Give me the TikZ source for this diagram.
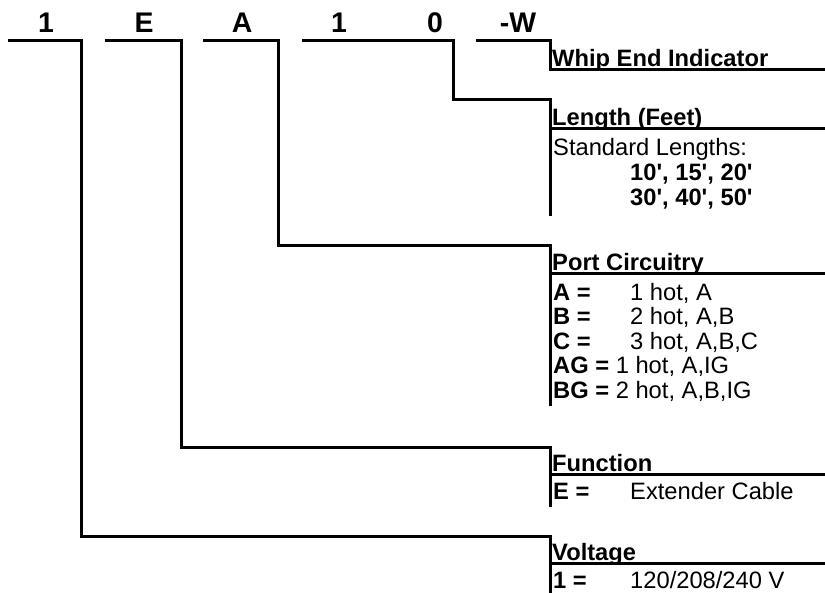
\documentclass[tikz,border=0pt]{standalone}
\usepackage{fontspec}
\setmainfont{Liberation Sans}[Ligatures=TeXOff]
\usetikzlibrary{positioning}
\newcommand{\codefont}{\fontsize{28.5}{30}\selectfont\bfseries}
\newcommand{\bodyfont}{\fontsize{23.8}{25}\selectfont}
\newcommand{\optkey}[1]{\makebox[77bp][l]{\bfseries #1}}
\tikzstyle{digit} = [font=\codefont, anchor=base, inner sep=0pt]
\tikzstyle{heading} = [font=\bodyfont\bfseries, anchor=base west, inner sep=0pt]
\tikzstyle{entry} = [font=\bodyfont, anchor=base west, inner sep=0pt]
\tikzstyle{lead} = [line width=3bp, black]

\begin{document}
\begin{tikzpicture}[x=1bp, y=-1bp]
    \useasboundingbox (0,0) rectangle (825,593);
    \coordinate (edge) at (825,0);

    % Place the code characters
    \node [digit] (cVolt) at (46,33) {1};
    \node [digit] (cFunc) at (144,33) {E};
    \node [digit] (cPort) at (242,33) {A};
    \node [digit] (cLenA) at (339,33) {1};
    \node [digit] (cLenB) at (435,33) {0};
    \node [digit] (cWhip) at (518,33) {-W};

    % Place the headings
    \node [heading] (tWhip) at (552,67) {Whip End Indicator};
    \node [heading] (tLen) at (552,126) {Length (Feet)};
    \node [heading] (tPort) at (552,270) {Port Circuitry};
    \node [heading] (tFunc) at (552,471) {Function};
    \node [heading] (tVolt) at (552,560) {Voltage};

    % Place the entries
    \node [entry] (eLen1) at (553,156) {Standard Lengths:};
    \node [entry] (eLen2) at (630,181) {\bfseries 10', 15', 20'};
    \node [entry] (eLen3) at (630,206) {\bfseries 30', 40', 50'};
    \node [entry] (ePortA) at (553,300) {\optkey{A =}1 hot, A};
    \node [entry] (ePortB) at (553,324.5) {\optkey{B =}2 hot, A,B};
    \node [entry] (ePortC) at (553,349) {\optkey{C =}3 hot, A,B,C};
    \node [entry] (ePortAG) at (553,373.5) {{\bfseries AG =} 1 hot, A,IG};
    \node [entry] (ePortBG) at (553,398) {{\bfseries BG =} 2 hot, A,B,IG};
    \node [entry] (eFuncE) at (553,499) {\optkey{E =}Extender Cable};
    \node [entry] (eVolt1) at (553,588) {\optkey{1 =}120/208/240 V};

    % Corner points of the leads
    \coordinate (sVolt) at (8,41);
    \coordinate (kVolt) at (81,536);
    \coordinate (bVolt) at (550,593);
    \coordinate (sFunc) at (105,41);
    \coordinate (kFunc) at (181,447);
    \coordinate (bFunc) at (550,507);
    \coordinate (sPort) at (203,41);
    \coordinate (kPort) at (278,245);
    \coordinate (bPort) at (550,406);
    \coordinate (sLen) at (302,41);
    \coordinate (kLen) at (453,100);
    \coordinate (bLen) at (550,216);
    \coordinate (sWhip) at (476,41);
    \coordinate (uWhip) at (550,70);
    \coordinate (uLen) at (550,129);
    \coordinate (uPort) at (550,273);
    \coordinate (uFunc) at (550,474);
    \coordinate (uVolt) at (550,563);

    % Connect the code to its panels
    \draw [lead] (sVolt) -| (kVolt) -| (bVolt);
    \draw [lead] (sFunc) -| (kFunc) -| (bFunc);
    \draw [lead] (sPort) -| (kPort) -| (bPort);
    \draw [lead] (sLen) -| (kLen) -| (bLen);
    \draw [lead] (sWhip) -| (uWhip) -- (uWhip -| edge);

    % Underline the headings
    \draw [lead] (uLen) -- (uLen -| edge);
    \draw [lead] (uPort) -- (uPort -| edge);
    \draw [lead] (uFunc) -- (uFunc -| edge);
    \draw [lead] (uVolt) -- (uVolt -| edge);
\end{tikzpicture}
\end{document}
